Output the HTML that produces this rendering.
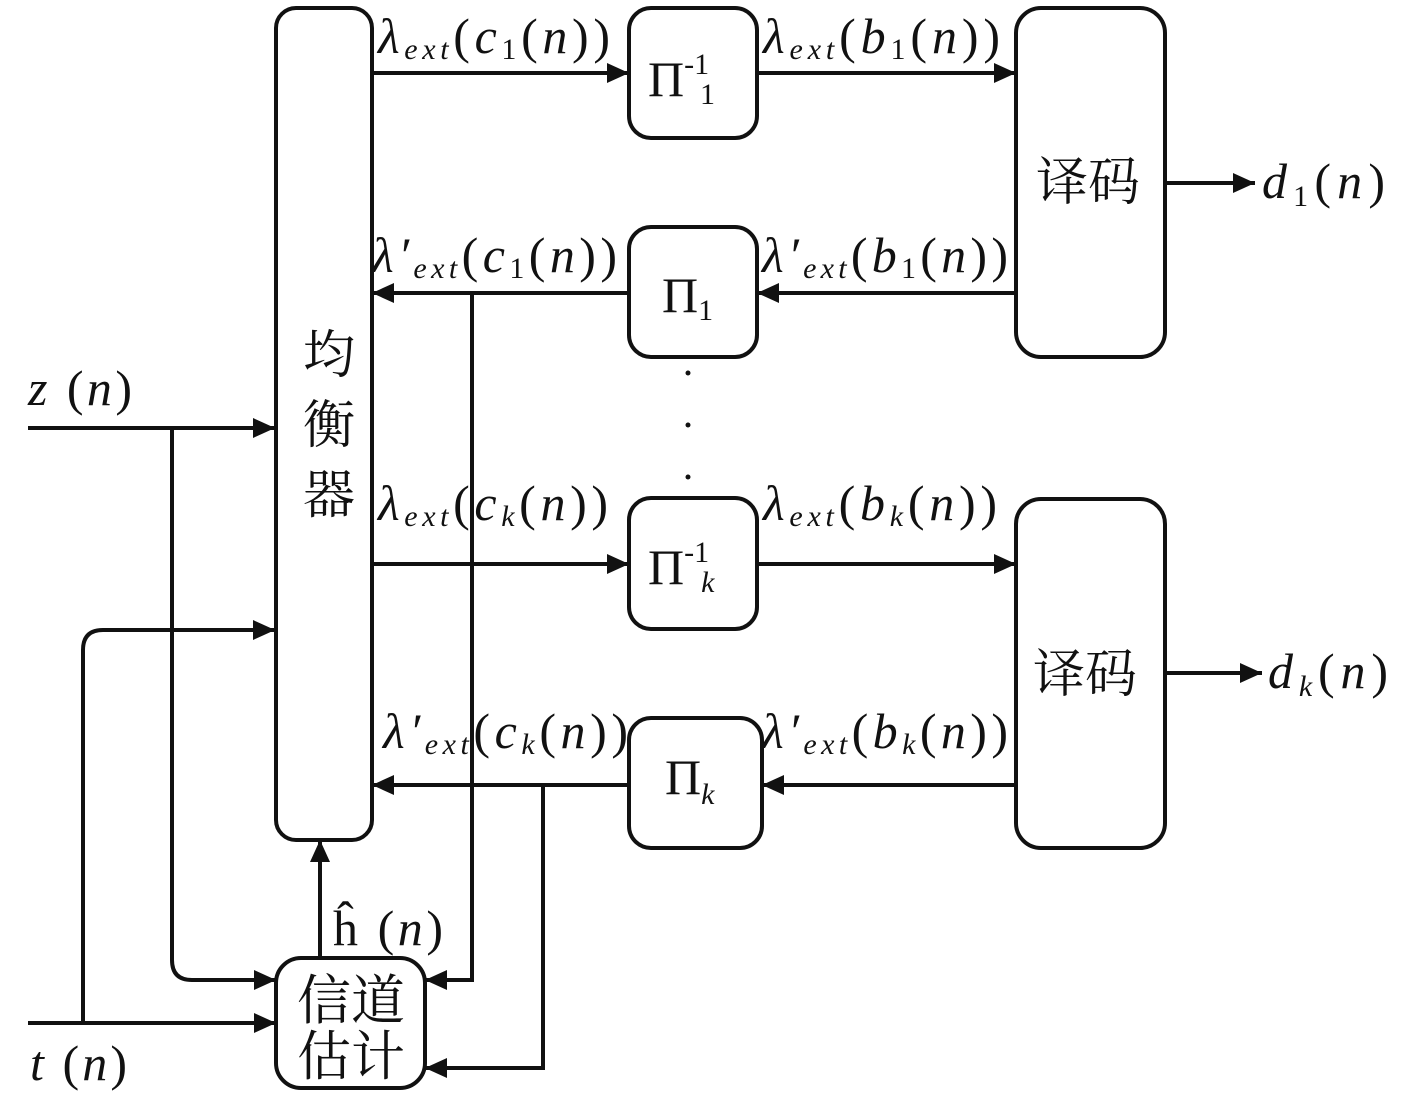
<!DOCTYPE html>
<html><head><meta charset="utf-8"><style>
html,body{margin:0;padding:0;background:#fff}
svg{display:block}
text{font-family:"Liberation Serif","Noto Serif CJK SC",serif;fill:#111}
.cn{font-family:"Liberation Serif","Noto Serif CJK SC",serif}
</style></head><body>
<svg width="1417" height="1098" viewBox="0 0 1417 1098" xmlns="http://www.w3.org/2000/svg">
<defs>
<marker id="A" viewBox="0 0 22 20" refX="22" refY="10" markerWidth="22" markerHeight="20" orient="auto" markerUnits="userSpaceOnUse"><path d="M0,0 L22,10 L0,20z" fill="#111"/></marker></defs>
<g fill="none" stroke="#111" stroke-width="4">
<rect x="276" y="8" width="96" height="832" rx="20"/>
<rect x="629" y="8" width="128" height="130" rx="22"/>
<rect x="629" y="227" width="128" height="130" rx="22"/>
<rect x="629" y="498" width="128" height="131" rx="22"/>
<rect x="629" y="718" width="133" height="130" rx="22"/>
<rect x="1016" y="8" width="149" height="349" rx="25"/>
<rect x="1016" y="499" width="149" height="349" rx="25"/>
<rect x="276" y="958" width="149" height="130" rx="25"/>
<g marker-end="url(#A)">
<path d="M372,73 H629"/><path d="M757,73 H1016"/>
<path d="M1016,293 H757"/><path d="M629,293 H372"/>
<path d="M372,564 H629"/><path d="M757,564 H1016"/>
<path d="M1016,785 H762"/><path d="M629,785 H372"/>
<path d="M1165,183 H1255"/><path d="M1165,673 H1262"/>
<path d="M28,428 H275"/>
<path d="M28,1023 H276"/>
<path d="M83,1023 V650 Q83,630 103,630 H275"/>
<path d="M172,428 V960 Q172,980 192,980 H276"/>
<path d="M472,293 V980 H425"/>
<path d="M543,785 V1068 H425"/>
<path d="M320,958 V840"/>
</g>
</g>
<g fill="#111"><circle cx="688" cy="373" r="2.5"/><circle cx="688" cy="425" r="2.5"/><circle cx="688" cy="477" r="2.5"/></g>
<g font-size="50">
<text x="378" y="53" font-style="italic" textLength="232" lengthAdjust="spacing">λ<tspan font-size="30" dy="6">ext</tspan><tspan font-style="normal" dy="-6">(</tspan>c<tspan font-style="normal" font-size="30" dy="6">1</tspan><tspan font-style="normal" dy="-6">(</tspan>n<tspan font-style="normal">))</tspan></text>
<text x="372" y="272" font-style="italic" textLength="245" lengthAdjust="spacing">λ′<tspan font-size="30" dy="6">ext</tspan><tspan font-style="normal" dy="-6">(</tspan>c<tspan font-style="normal" font-size="30" dy="6">1</tspan><tspan font-style="normal" dy="-6">(</tspan>n<tspan font-style="normal">))</tspan></text>
<text x="378" y="520" font-style="italic" textLength="230" lengthAdjust="spacing">λ<tspan font-size="30" dy="6">ext</tspan><tspan font-style="normal" dy="-6">(</tspan>c<tspan font-size="30" dy="6">k</tspan><tspan font-style="normal" dy="-6">(</tspan>n<tspan font-style="normal">))</tspan></text>
<text x="383" y="748" font-style="italic" textLength="245" lengthAdjust="spacing">λ′<tspan font-size="30" dy="6">ext</tspan><tspan font-style="normal" dy="-6">(</tspan>c<tspan font-size="30" dy="6">k</tspan><tspan font-style="normal" dy="-6">(</tspan>n<tspan font-style="normal">))</tspan></text>
<text x="763" y="53" font-style="italic" textLength="237" lengthAdjust="spacing">λ<tspan font-size="30" dy="6">ext</tspan><tspan font-style="normal" dy="-6">(</tspan>b<tspan font-style="normal" font-size="30" dy="6">1</tspan><tspan font-style="normal" dy="-6">(</tspan>n<tspan font-style="normal">))</tspan></text>
<text x="762" y="272" font-style="italic" textLength="246" lengthAdjust="spacing">λ′<tspan font-size="30" dy="6">ext</tspan><tspan font-style="normal" dy="-6">(</tspan>b<tspan font-style="normal" font-size="30" dy="6">1</tspan><tspan font-style="normal" dy="-6">(</tspan>n<tspan font-style="normal">))</tspan></text>
<text x="763" y="520" font-style="italic" textLength="234" lengthAdjust="spacing">λ<tspan font-size="30" dy="6">ext</tspan><tspan font-style="normal" dy="-6">(</tspan>b<tspan font-size="30" dy="6">k</tspan><tspan font-style="normal" dy="-6">(</tspan>n<tspan font-style="normal">))</tspan></text>
<text x="762" y="748" font-style="italic" textLength="246" lengthAdjust="spacing">λ′<tspan font-size="30" dy="6">ext</tspan><tspan font-style="normal" dy="-6">(</tspan>b<tspan font-size="30" dy="6">k</tspan><tspan font-style="normal" dy="-6">(</tspan>n<tspan font-style="normal">))</tspan></text>
<text x="1262" y="198" font-style="italic" textLength="123" lengthAdjust="spacing">d<tspan font-style="normal" font-size="30" dy="8">1</tspan><tspan font-style="normal" dy="-8">(</tspan>n<tspan font-style="normal">)</tspan></text>
<text x="1268" y="688" font-style="italic" textLength="120" lengthAdjust="spacing">d<tspan font-size="30" dy="8">k</tspan><tspan font-style="normal" dy="-8">(</tspan>n<tspan font-style="normal">)</tspan></text>
<text x="28" y="405" font-style="italic" textLength="104" lengthAdjust="spacing">z <tspan font-style="normal">(</tspan>n<tspan font-style="normal">)</tspan></text>
<text x="30" y="1080" font-style="italic" textLength="97" lengthAdjust="spacing">t <tspan font-style="normal">(</tspan>n<tspan font-style="normal">)</tspan></text>
<text x="333" y="945" textLength="110" lengthAdjust="spacing">ĥ (<tspan font-style="italic">n</tspan>)</text>
<text x="648" y="96">Π<tspan font-size="30" dy="-22">-1</tspan><tspan font-size="30" dx="-8" dy="30">1</tspan></text>
<text x="662" y="312">Π<tspan font-size="30" dy="8">1</tspan></text>
<text x="648" y="584">Π<tspan font-size="30" dy="-22">-1</tspan><tspan font-size="30" font-style="italic" dx="-8" dy="30">k</tspan></text>
<text x="665" y="794">Π<tspan font-size="30" font-style="italic" dy="10">k</tspan></text>
</g>
<g font-size="52">
<text class="cn" x="303" y="373">均</text>
<text class="cn" x="303" y="443">衡</text>
<text class="cn" x="303" y="513">器</text>
<text class="cn" x="1036" y="200">译码</text>
<text class="cn" x="1033" y="692">译码</text>
<text class="cn" x="297" y="1019" font-size="54">信道</text>
<text class="cn" x="297" y="1075" font-size="54">估计</text>
</g>
</svg>
</body></html>
